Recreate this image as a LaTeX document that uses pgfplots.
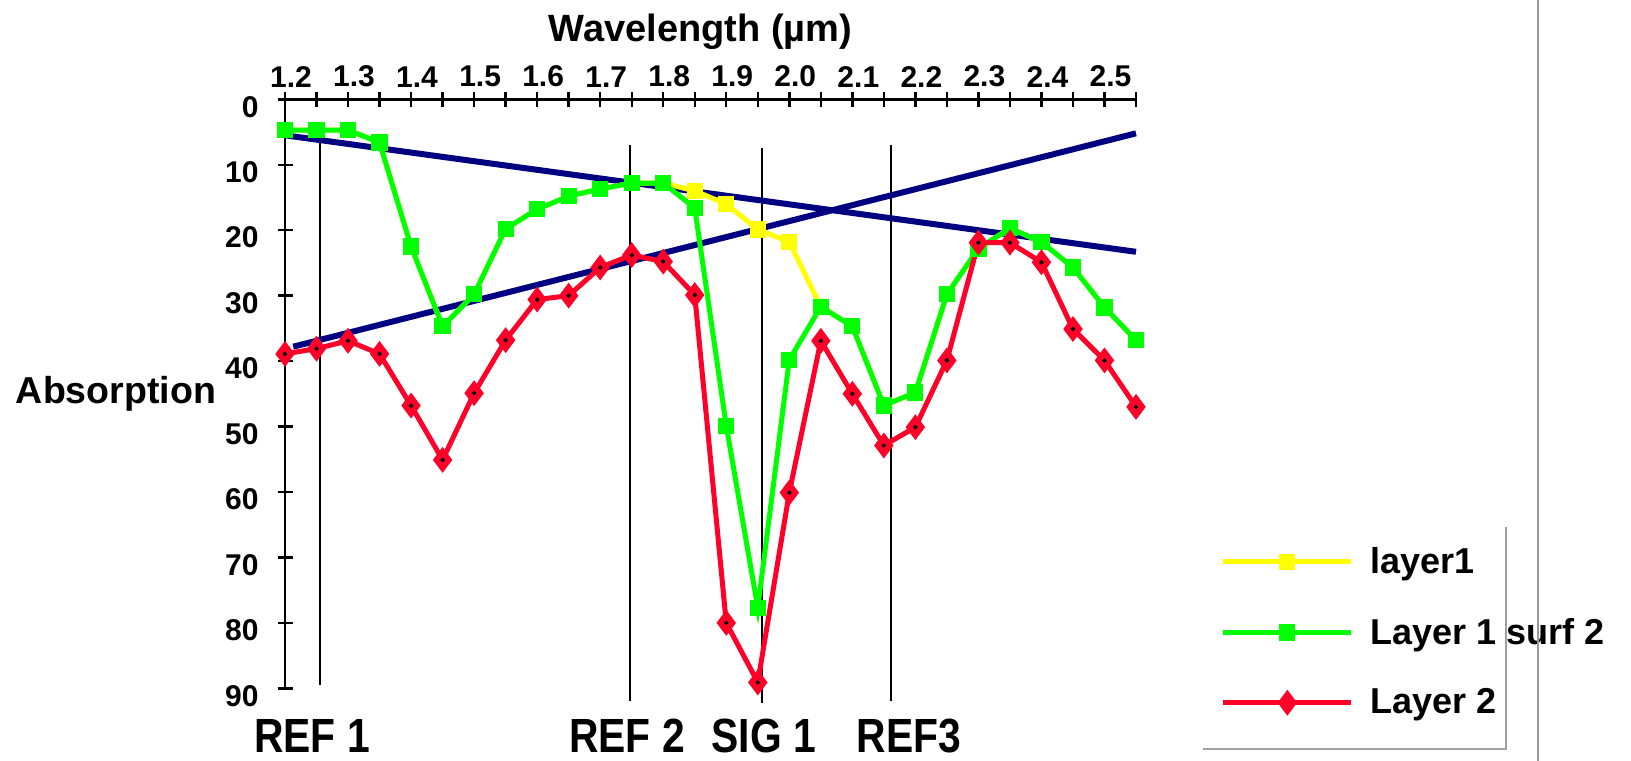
\documentclass[border=0pt]{standalone}
\usepackage{fontspec}
\setmainfont{Liberation Sans}
\usepackage{pgfplots}
\usepackage{pgfplotstable}
\pgfplotsset{compat=1.18}
\definecolor{lgreen}{RGB}{0,255,0}
\definecolor{lyellow}{RGB}{255,255,0}
\definecolor{lred}{RGB}{255,0,40}
\definecolor{lnavy}{RGB}{0,0,128}
\definecolor{lgray}{RGB}{160,160,160}

% wavelength, Layer 1 surf 2, layer1, Layer 2
\pgfplotstableread{
x     surf  lay1  lay2
1.20  4.7   4.7   38.9
1.25  4.7   4.7   38.1
1.30  4.7   4.7   36.9
1.35  6.6   6.6   38.9
1.40  22.5  22.5  46.8
1.45  34.7  34.7  55.1
1.50  29.8  29.8  44.9
1.55  19.8  19.8  36.8
1.60  16.8  16.8  30.6
1.65  14.8  14.8  30.0
1.70  13.7  13.7  25.7
1.75  12.8  12.8  23.8
1.80  12.8  12.8  24.8
1.85  16.6  14.0  29.9
1.90  49.9  16.0  80.0
1.95  77.7  19.9  89.1
2.00  39.8  21.8  60.1
2.05  31.7  31.7  36.9
2.10  34.7  34.7  45.0
2.15  46.8  46.8  52.9
2.20  44.8  44.8  50.1
2.25  29.8  29.8  39.9
2.30  22.8  22.8  21.9
2.35  19.7  19.7  21.9
2.40  21.8  21.8  24.9
2.45  25.7  25.7  35.1
2.50  31.8  31.8  39.9
2.55  36.8  36.8  47.0
}\spectra

\begin{document}
\begin{tikzpicture}
\path[use as bounding box] (0,0) rectangle (815.5bp,380.5bp);
\begin{axis}[
    at={(142.5bp,36.35bp)}, anchor=south west,
    width=425.5bp, height=294.5bp, scale only axis,
    xmin=1.2, xmax=2.55, ymin=0, ymax=90, y dir=reverse,
    axis x line*=top, axis y line*=left,
    axis line style={-, line width=1.2bp},
    xtick={1.2,1.25,1.3,1.35,1.4,1.45,1.5,1.55,1.6,1.65,1.7,1.75,1.8,1.85,1.9,1.95,2.0,2.05,2.1,2.15,2.2,2.25,2.3,2.35,2.4,2.45,2.5,2.55},
    xticklabels={1.2,,1.3,,1.4,,1.5,,1.6,,1.7,,1.8,,1.9,,2.0,,2.1,,2.2,,2.3,,2.4,,2.5,},
    ytick={0,10,20,30,40,50,60,70,80,90},
    major tick length=7.5bp, tick align=center,
    tick style={line width=1.2bp, black},
    ticklabel style={font=\bfseries\fontsize{15bp}{17bp}\selectfont},
    xticklabel style={xshift=3bp, yshift=-1.2bp},
    yticklabel style={xshift=-6bp, yshift=-3.7bp},
    /pgf/number format/assume math mode=true,
    clip=false,
    legend style={at={(axis cs:2.684,67.8)}, anchor=north west, draw=none, fill=none,
        inner sep=0pt, row sep=16.8bp,
        font=\bfseries\fontsize{18bp}{20bp}\selectfont,
        /tikz/every odd column/.append style={column sep=6.5bp}},
    legend cell align=left,
    legend image code/.code={\draw[mark repeat=2,mark phase=2] plot coordinates {(0bp,0bp) (32bp,0bp) (64bp,0bp)};},
]
% marker lines
\addplot[black, line width=1bp, forget plot] coordinates {(1.255,5.8) (1.255,89.5)};
\addplot[black, line width=1bp, forget plot] coordinates {(1.748,7.0) (1.748,92.0)};
\addplot[black, line width=1bp, forget plot] coordinates {(1.956,7.5) (1.956,92.2)};
\addplot[black, line width=1bp, forget plot] coordinates {(2.162,7.0) (2.162,92.0)};
% baselines
\addplot[lnavy, line width=3bp, forget plot] coordinates {(1.2,5.5) (2.55,23.3)};
\addplot[lnavy, line width=3bp, forget plot] coordinates {(1.213,37.8) (2.55,5.2)};
% series
\addplot[lyellow, line width=2.5bp, mark=square*, mark size=2.8bp, mark options={solid}] table[x=x, y=lay1] {\spectra};
\addlegendentry{layer1}
\addplot[lgreen, line width=2.5bp, mark=square*, mark size=2.8bp, mark options={solid}] table[x=x, y=surf] {\spectra};
\addlegendentry{Layer 1 surf 2}
\addplot[lred, line width=2.5bp, mark=diamond*, mark size=4.4bp, mark options={solid}] table[x=x, y=lay2] {\spectra};
\addlegendentry{Layer 2}
\addplot[only marks, mark=*, mark size=0.9bp, black, forget plot] table[x=x, y=lay2] {\spectra};
\end{axis}
\draw[lgray, line width=1bp] (601.5bp,6bp) -- (753bp,6bp) -- (753bp,117bp);
\draw[lgray!95!black, line width=0.9bp] (769bp,0bp) -- (769bp,380.5bp);
\node[anchor=base, inner sep=0pt, font=\bfseries\fontsize{19bp}{22bp}\selectfont] at (350.25bp,359.7bp) {Wavelength (µm)};
\node[anchor=base west, inner sep=0pt, font=\bfseries\fontsize{18.75bp}{22bp}\selectfont] at (7.8bp,178.7bp) {Absorption};
\begin{scope}[every node/.style={anchor=base, inner sep=0pt, font=\bfseries\fontsize{24bp}{26bp}\selectfont}]
\node at (156bp,4.5bp) {\scalebox{0.85}[1]{REF 1}};
\node at (313.5bp,4.5bp) {\scalebox{0.85}[1]{REF 2}};
\node at (381.8bp,4.5bp) {\scalebox{0.85}[1]{SIG 1}};
\node at (454.5bp,4.5bp) {\scalebox{0.85}[1]{REF3}};
\end{scope}
\end{tikzpicture}
\end{document}
